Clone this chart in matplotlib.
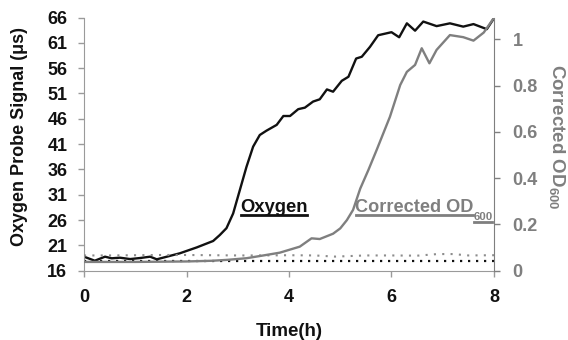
import numpy as np
import matplotlib
matplotlib.use("Agg")
import matplotlib.pyplot as plt
from matplotlib.lines import Line2D

plt.rcParams['font.family'] = ['Liberation Sans', 'DejaVu Sans']
plt.rcParams['font.weight'] = 'bold'
plt.rcParams['mathtext.fontset'] = 'custom'
plt.rcParams['mathtext.rm'] = 'Liberation Sans:bold'
plt.rcParams['mathtext.bf'] = 'Liberation Sans:bold'
plt.rcParams['mathtext.it'] = 'Liberation Sans:bold'

# oxygen probe signal (us) vs time (h)
oxy_t = [0, 0.21, 0.41, 0.54, 0.70, 0.90, 1.09, 1.29, 1.42, 1.87, 2.20, 2.52,
         2.65, 2.78, 2.91, 3.04, 3.17, 3.30, 3.43, 3.56, 3.76, 3.89, 4.02, 4.18,
         4.31, 4.47, 4.60, 4.74, 4.86, 5.03, 5.16, 5.31, 5.42, 5.58, 5.74, 6.00,
         6.15, 6.30, 6.46, 6.62, 6.88, 7.14, 7.40, 7.60, 7.86, 8.00]
oxy_val = [18.77, 17.97, 18.77, 18.45, 18.57, 18.30, 18.50, 18.77, 18.25, 19.44,
           20.60, 21.87, 23.05, 24.40, 27.30, 31.90, 36.50, 40.50, 42.80, 43.65,
           44.80, 46.55, 46.55, 47.90, 48.20, 49.40, 49.85, 51.80, 51.35, 53.50,
           54.30, 57.90, 58.25, 60.20, 62.50, 63.10, 62.10, 64.85, 63.40, 65.20,
           64.30, 64.85, 64.20, 64.70, 63.70, 65.85]

# corrected OD600 vs time (h)
od_t = [0, 0.5, 1.0, 1.5, 2.0, 2.5, 2.8, 3.17, 3.5, 3.82, 4.21, 4.44, 4.60,
        4.86, 5.00, 5.13, 5.25, 5.39, 5.55, 5.71, 5.97, 6.17, 6.30, 6.46, 6.59,
        6.74, 6.88, 7.14, 7.40, 7.60, 7.80, 8.00]
od_val = [0.038, 0.038, 0.038, 0.039, 0.040, 0.043, 0.047, 0.054, 0.066, 0.078,
          0.104, 0.140, 0.137, 0.160, 0.183, 0.219, 0.263, 0.355, 0.436, 0.522,
          0.666, 0.803, 0.860, 0.890, 0.962, 0.897, 0.955, 1.019, 1.010, 0.995,
          1.030, 1.094]

# controls (dotted)
ctrl_t = [0, 0.5, 1.0, 1.5, 2.0, 2.5, 3.0, 3.5, 4.0, 4.5, 4.9, 5.5, 6.0, 6.5,
          6.9, 7.2, 7.5, 8.0]
ctrl_od = [0.066, 0.066, 0.067, 0.068, 0.068, 0.067, 0.066, 0.066, 0.067, 0.066,
           0.061, 0.066, 0.066, 0.065, 0.072, 0.072, 0.066, 0.067]
ctrl_oxy_t = [0, 8]
ctrl_oxy = [17.86, 17.86]

GRAY = '#7f7f7f'
SPINE = '#9a9a9a'
DARK = '#111111'

fig = plt.figure(figsize=(5.68, 3.4), dpi=100)
ax = fig.add_axes([0.1479, 0.2038, 0.7218, 0.7447])
ax2 = ax.twinx()

ax.plot(ctrl_oxy_t, ctrl_oxy, color=DARK, lw=1.6, ls=(0, (1, 2.6)))
ax.plot(oxy_t, oxy_val, color=DARK, lw=1.7, solid_joinstyle='round')
ax2.plot(ctrl_t, ctrl_od, color='#8c8c8c', lw=1.5, ls=(0, (1, 3.0)))
ax2.plot(od_t, od_val, color=GRAY, lw=1.7, solid_joinstyle='round')

ax.set_xlim(0, 8)
ax.set_ylim(16, 66)
ax2.set_ylim(0, 1.095)
ax.set_xticks(np.arange(0, 9, 2))
ax.set_yticks(np.arange(16, 67, 5))
ax2.set_yticks([0, 0.2, 0.4, 0.6, 0.8, 1.0])
ax2.set_yticklabels(['0', '0.2', '0.4', '0.6', '0.8', '1'])

for a in (ax, ax2):
    a.spines['top'].set_visible(False)
ax.spines['right'].set_visible(False)
ax2.spines['left'].set_visible(False)
ax2.spines['bottom'].set_visible(False)
ax.spines['left'].set_color(SPINE)
ax.spines['bottom'].set_color(SPINE)
ax2.spines['right'].set_color(GRAY)

ax.tick_params(axis='y', direction='out', length=4.5, width=1, color=SPINE,
               labelsize=13, labelcolor=DARK, pad=7.5)
ax.tick_params(axis='x', direction='out', length=4.5, width=1, color=SPINE,
               labelsize=13, labelcolor=DARK, pad=9)
ax2.tick_params(axis='y', direction='out', length=4.5, width=1, color=GRAY,
                labelsize=13, labelcolor=GRAY, pad=9)

fig.text(20 / 568, 1 - 136 / 340, 'Oxygen Probe Signal (\u03bcs)', rotation=90,
         ha='center', va='center', fontsize=13, color=DARK)
fig.text(557 / 568, 1 - 137 / 340, r'Corrected OD$_{600}$', rotation=270,
         ha='center', va='center', fontsize=13.5, color=GRAY)
fig.text(289 / 568, 1 - 336.5 / 340, 'Time(h)', ha='center', va='baseline',
         fontsize=13.5, color=DARK)

# in-plot labels with underlines
lab_y = 27.65
t_oxy = ax.text(3.044, lab_y, 'Oxygen', fontsize=13.3, color=DARK, va='baseline')
t_od = ax.text(5.288, lab_y, 'Corrected OD', fontsize=13.1, color=GRAY, va='baseline')

fig.canvas.draw()
renderer = fig.canvas.get_renderer()
inv = fig.transFigure.inverted()


def underline(txt, base_disp, color, drop=3.0):
    bb = txt.get_window_extent(renderer)
    p0 = inv.transform((bb.x0 + 0.5, base_disp - drop))
    p1 = inv.transform((bb.x1 - 0.5, base_disp - drop))
    fig.add_artist(Line2D([p0[0], p1[0]], [p0[1], p1[1]], color=color, lw=2.0,
                          transform=fig.transFigure))


base = ax.transData.transform((0, lab_y))[1]
underline(t_oxy, base, DARK)
underline(t_od, base, GRAY)

od_bb = t_od.get_window_extent(renderer)
sub_pos = inv.transform((od_bb.x1, base - 8.3))
t_sub = fig.text(sub_pos[0], sub_pos[1], '600', fontsize=8.2, color=GRAY, va='baseline')
fig.canvas.draw()
underline(t_sub, base - 8.3, GRAY, drop=2.4)

fig.savefig('out.png', dpi=100)
